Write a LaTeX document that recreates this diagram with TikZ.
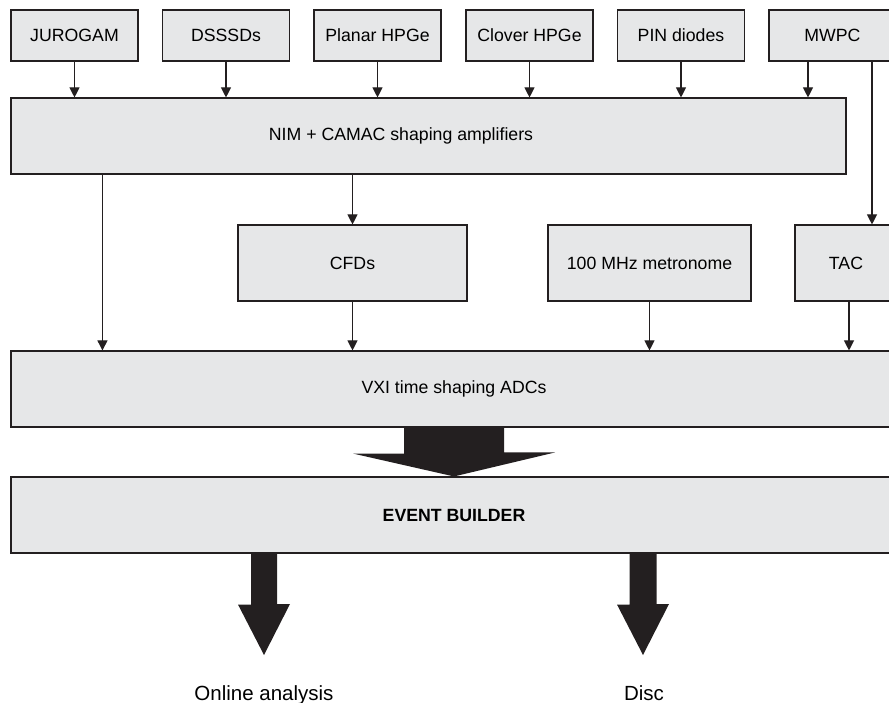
\documentclass[tikz,border=0pt]{standalone}
\usepackage{fontspec}
\setmainfont{Liberation Sans}
\usetikzlibrary{arrows.meta}
\usetikzlibrary{calc}

\definecolor{linec}{HTML}{231F20}
\definecolor{boxc}{HTML}{E6E7E8}

\tikzset{
  box/.style={draw=linec, fill=boxc, line width=1.1pt, inner sep=0pt,
    minimum width=127pt, minimum height=51pt, font=\fontsize{17.7}{20}\selectfont},
  wide/.style={box, minimum height=76pt},
  sig/.style={draw=linec, line width=1.1pt, -{Triangle[length=10pt,width=10pt]}},
  fat/.style={fill=linec},
  outlbl/.style={anchor=base, inner sep=0pt, font=\fontsize{20.5}{24}\selectfont}
}

\begin{document}
\begin{tikzpicture}[x=1pt,y=-1pt]
            \useasboundingbox (0,0) rectangle (889,703);
            % detectors
            \node[box] (jurogam) at (74.5,35.5) {JUROGAM};
            \node[box] (dsssd) at (226,35.5) {DSSSDs};
            \node[box] (planar) at (377.5,35.5) {Planar HPGe};
            \node[box] (clover) at (529.5,35.5) {Clover HPGe};
            \node[box] (pin) at (681,35.5) {PIN diodes};
            \node[box] (mwpc) at (832.5,35.5) {MWPC};
            % electronics
            \node[wide, minimum width=835pt] (nim) at (428.5,136) {};
            \node[font=\fontsize{17.7}{20}\selectfont, inner sep=0pt] (nimtext) at ([xshift=-27.5]nim.center) {NIM + CAMAC shaping amplifiers};
            \node[wide, minimum width=229pt] (cfd) at (352.5,263) {CFDs};
            \node[wide, minimum width=203pt] (metro) at (649.5,263) {100 MHz metronome};
            \node[wide, minimum width=102pt] (tac) at (846,263) {TAC};
            \node[wide, minimum width=886pt] (vxi) at (454,389) {VXI time shaping ADCs};
            \node[wide, minimum width=886pt] (event) at (454,515) {\bfseries EVENT BUILDER};
            \node[outlbl] (online) at (264,700) {Online analysis};
            \node[outlbl] (disc) at (644,700) {Disc};
            \coordinate (mwpcout) at ([xshift=-24.5]mwpc.south);
            \coordinate (mwpcrun) at ([xshift=39.5]mwpc.south);
            \coordinate (nimout) at ([xshift=92]nim.south west);
            \coordinate (tacout) at ([xshift=3]tac.south);
            \coordinate (onlinetip) at (264,655);
            \coordinate (disctip) at (643,655);
            % signals
            \draw[sig] (jurogam.south) -- (jurogam.south |- nim.north);
            \draw[sig] (dsssd.south) -- (dsssd.south |- nim.north);
            \draw[sig] (planar.south) -- (planar.south |- nim.north);
            \draw[sig] (clover.south) -- (clover.south |- nim.north);
            \draw[sig] (pin.south) -- (pin.south |- nim.north);
            \draw[sig] (mwpcout) -- (mwpcout |- nim.north);
            \draw[sig] (mwpcrun) -- (mwpcrun |- tac.north);
            \draw[sig] (nimout) -- (nimout |- vxi.north);
            \draw[sig] (cfd.north |- nim.south) -- (cfd.north);
            \draw[sig] (cfd.south) -- (cfd.south |- vxi.north);
            \draw[sig] (metro.south) -- (metro.south |- vxi.north);
            \draw[sig] (tacout) -- (tacout |- vxi.north);
            % data flow
            \fill[fat] ($(vxi.south)+(-50,0)$) -- ++(0,26) -- ++(-51,0) -- (event.north) -- ++(101,-24) -- ++(-51,0) -- ++(0,-26) -- cycle;
            \fill[fat] ($(event.south -| onlinetip)+(-13,0)$) -- ++(0,51) -- ++(-13,0) -- (onlinetip) -- ++(26,-51) -- ++(-13,0) -- ++(0,-51) -- cycle;
            \fill[fat] ($(event.south -| disctip)+(-13.5,0)$) -- ++(0,51) -- ++(-12.5,0) -- (disctip) -- ++(26,-51) -- ++(-12.5,0) -- ++(0,-51) -- cycle;
        \end{tikzpicture}
\end{document}
